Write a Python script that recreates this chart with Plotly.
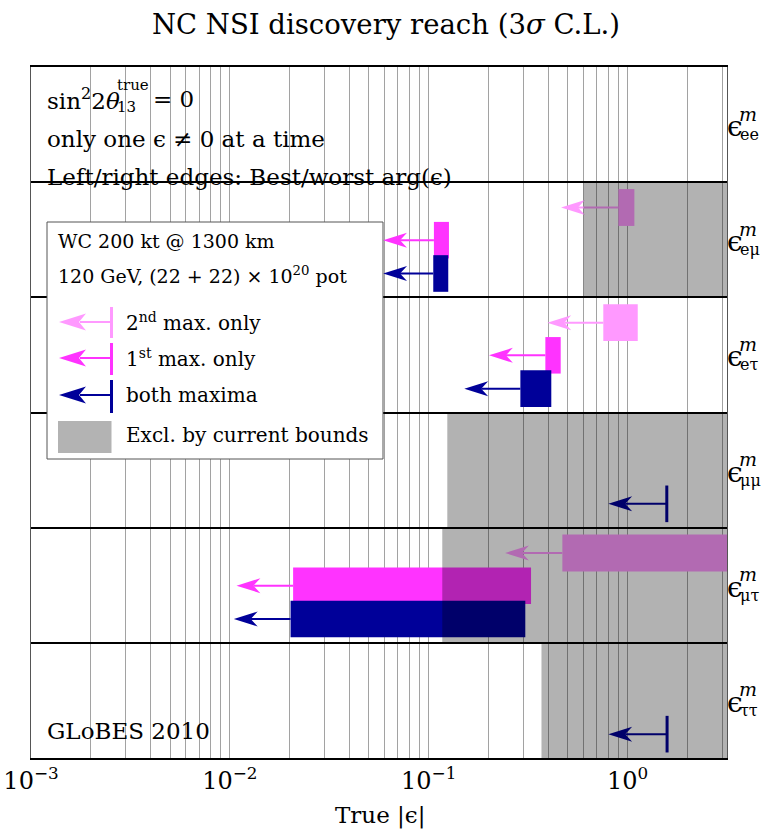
import math
import plotly.graph_objects as go

# ---------------- data ----------------
rows = ["ee", "eμ", "eτ", "μμ", "μτ", "ττ"]          # top to bottom
excl_from = [None, 0.60, None, 0.124, 0.117, 0.369]   # excluded by current bounds (lower edge)

second_best = [None, 0.899, 0.755, None, 0.470, None]
second_worst = [None, 1.082, 1.125, None, 3.6, None]
second_tip = [None, 0.463, 0.395, None, 0.242, None]

first_best = [None, 0.1062, 0.386, None, 0.0208, None]
first_worst = [None, 0.1264, 0.461, None, 0.327, None]
first_tip = [None, 0.059, 0.201, None, 0.0108, None]

both_best = [None, 0.1054, 0.289, 1.575, 0.0202, 1.58]
both_worst = [None, 1.254e-1, 0.4135, 1.575, 0.306, 1.58]
both_tip = [None, 0.059, 0.151, 0.80, 0.01047, 0.80]

x_tick_decades = [1e-3, 1e-2, 1e-1, 1e0]
x_tick_labels = ["10<sup>−3</sup>", "10<sup>−2</sup>", "10<sup>−1</sup>", "10<sup>0</sup>"]

# ---------------- styles ----------------
C_SECOND = "#ff99ff"
C_FIRST = "#ff33ff"
C_BOTH = "#000099"
EXCL = "rgba(0,0,0,0.30)"
FONT = "DejaVu Serif"

W, H = 764, 829
ML, MR, MT, MB = 31, 37, 67, 71
XLOG = (-3, 0.5)
NR = len(rows)

# slot (top, bottom) as fraction of row height measured from row top
SLOT = {"second": (0.06, 0.38), "first": (0.345, 0.662), "both": (0.634, 0.952)}
HEAD_LEN = 0.12   # decades
HEAD_NOTCH = 0.085
HEAD_HALF = 0.065  # row units


def px(x):
    return (x - ML) / (W - ML - MR)


def py(y):
    return (H - MB - y) / (H - MT - MB)


fig = go.Figure()


def rect(x0, x1, y0, y1, color):
    fig.add_trace(go.Scatter(x=[x0, x1, x1, x0, x0], y=[y0, y0, y1, y1, y0],
                             mode="lines", fill="toself", fillcolor=color,
                             line=dict(width=0, color=color), hoverinfo="skip",
                             showlegend=False))


def arrow(tip, start, yc, color):
    lt = math.log10(tip)
    fig.add_trace(go.Scatter(x=[10 ** (lt + HEAD_NOTCH), start], y=[yc, yc], mode="lines",
                             line=dict(width=2, color=color), hoverinfo="skip", showlegend=False))
    fig.add_trace(go.Scatter(
        x=[tip, 10 ** (lt + HEAD_LEN), 10 ** (lt + HEAD_NOTCH), 10 ** (lt + HEAD_LEN), tip],
        y=[yc, yc + HEAD_HALF, yc, yc - HEAD_HALF, yc],
        mode="lines", fill="toself", fillcolor=color, line=dict(width=0, color=color),
        hoverinfo="skip", showlegend=False))


def series(best, worst, tip, slot, color):
    for i in range(NR):
        if best[i] is None:
            continue
        top = NR - i
        y_top = top - SLOT[slot][0]
        y_bot = top - SLOT[slot][1]
        yc = (y_top + y_bot) / 2
        arrow(tip[i], best[i], yc, color)
        if worst[i] > best[i] * 1.001:
            rect(best[i], worst[i], y_bot, y_top, color)
        else:
            fig.add_trace(go.Scatter(x=[best[i], best[i]], y=[y_bot, y_top], mode="lines",
                                     line=dict(width=3, color=color), hoverinfo="skip",
                                     showlegend=False))


series(second_best, second_worst, second_tip, "second", C_SECOND)
series(first_best, first_worst, first_tip, "first", C_FIRST)
series(both_best, both_worst, both_tip, "both", C_BOTH)

# excluded regions drawn on top (darkening overlay)
for i in range(NR):
    if excl_from[i] is not None:
        rect(excl_from[i], 10 ** 0.7, NR - i - 1, NR - i, EXCL)

# ---------------- axes ----------------
grid_vals = []
grid_text = []
for d in x_tick_decades:
    for m in range(1, 10):
        v = d * m
        if math.log10(v) <= XLOG[1] + 1e-9:
            grid_vals.append(v)
            grid_text.append(x_tick_labels[x_tick_decades.index(d)] if m == 1 else "")

fig.update_xaxes(type="log", range=list(XLOG), tickvals=grid_vals, ticktext=grid_text,
                 showgrid=True, gridcolor="#a2a2a2", gridwidth=1, ticks="",
                 showline=True, linecolor="black", linewidth=2, mirror=True,
                 tickfont=dict(family=FONT, size=24, color="black"),
                 title=dict(text="True |ϵ|", font=dict(family=FONT, size=23, color="black"),
                            standoff=17),
                 automargin=False, zeroline=False)
fig.update_yaxes(range=[0, NR], tickvals=list(range(NR + 1)), showticklabels=False,
                 showgrid=True, gridcolor="black", gridwidth=2, ticks="",
                 showline=True, linecolor="#555555", linewidth=1, mirror=True,
                 automargin=False, zeroline=False)

# ---------------- annotations ----------------
ann = []


def text(x, y, s, size, anchor="left", **kw):
    ann.append(dict(x=px(x), y=py(y), xref="paper", yref="paper", text=s, showarrow=False,
                    xanchor=anchor, yanchor="middle",
                    font=dict(family=FONT, size=size, color="black"), **kw))


# title
text(386, 24, "NC NSI discovery reach (3<i>σ</i> C.L.)", 27.5, anchor="center")

# info text
text(45, 99, "sin<sup>2</sup>2<i>θ</i>", 23)
text(115, 107, "13", 15)
text(115, 85, "true", 15)
text(151, 99, "= 0", 23)
text(45, 139, "only one ϵ ≠ 0 at a time", 23)
text(45, 177, "Left/right edges: Best/worst arg(ϵ)", 23)
text(45, 731, "GLoBES 2010", 23)

# x-axis title placed explicitly
text(380, 816, "True |ϵ|", 23, anchor="center")
fig.update_xaxes(title=None)

# right-hand row labels
for i, r in enumerate(rows):
    yc = NR - i - 0.5
    ann.append(dict(x=1.0, y=yc, xref="paper", yref="y", text="ϵ", showarrow=False,
                    xanchor="left", yanchor="middle", xshift=-2, yshift=-2,
                    font=dict(family=FONT, size=28, color="black")))
    ann.append(dict(x=1.0, y=yc, xref="paper", yref="y", text="<i>m</i>", showarrow=False,
                    xanchor="left", yanchor="middle", xshift=10, yshift=11,
                    font=dict(family=FONT, size=19, color="black")))
    ann.append(dict(x=1.0, y=yc, xref="paper", yref="y", text=r, showarrow=False,
                    xanchor="left", yanchor="middle", xshift=11, yshift=-10,
                    font=dict(family=FONT, size=16, color="black")))

# legend box
shapes = []
shapes.append(dict(type="rect", xref="paper", yref="paper", x0=px(47), x1=px(383),
                   y0=py(459), y1=py(222), fillcolor="white",
                   line=dict(color="#555555", width=1), layer="above"))
text(56, 241, "WC 200 kt @ 1300 km", 19)
text(56, 275, "120 GeV, (22 + 22) × 10<sup>20</sup> pot", 19)

leg_items = [(C_SECOND, 322, 307, 338, "2<sup>nd</sup> max. only"),
             (C_FIRST, 358, 343, 375, "1<sup>st</sup> max. only"),
             (C_BOTH, 395, 380, 413, "both maxima")]
for col, yc, yt, yb, lab in leg_items:
    shapes.append(dict(type="line", xref="paper", yref="paper", x0=px(111.5), x1=px(111.5),
                       y0=py(yt), y1=py(yb), line=dict(color=col, width=3), layer="above"))
    shapes.append(dict(type="line", xref="paper", yref="paper", x0=px(80), x1=px(111.5),
                       y0=py(yc), y1=py(yc), line=dict(color=col, width=2), layer="above"))
    path = "M {} {} L {} {} L {} {} L {} {} Z".format(
        px(59), py(yc), px(86), py(yc - 8.5), px(79), py(yc), px(86), py(yc + 8.5))
    shapes.append(dict(type="path", xref="paper", yref="paper", path=path,
                       fillcolor=col, line=dict(width=0, color=col), layer="above"))
    text(124, yc, lab, 20)

shapes.append(dict(type="rect", xref="paper", yref="paper", x0=px(58), x1=px(111.5),
                   y0=py(453), y1=py(421), fillcolor="#b3b3b3",
                   line=dict(width=0), layer="above"))
text(124, 435, "Excl. by current bounds", 20)

fig.update_layout(width=W, height=H, margin=dict(l=ML, r=MR, t=MT, b=MB),
                  plot_bgcolor="white", paper_bgcolor="white",
                  annotations=ann, shapes=shapes, showlegend=False)

fig.write_html("out.html")
